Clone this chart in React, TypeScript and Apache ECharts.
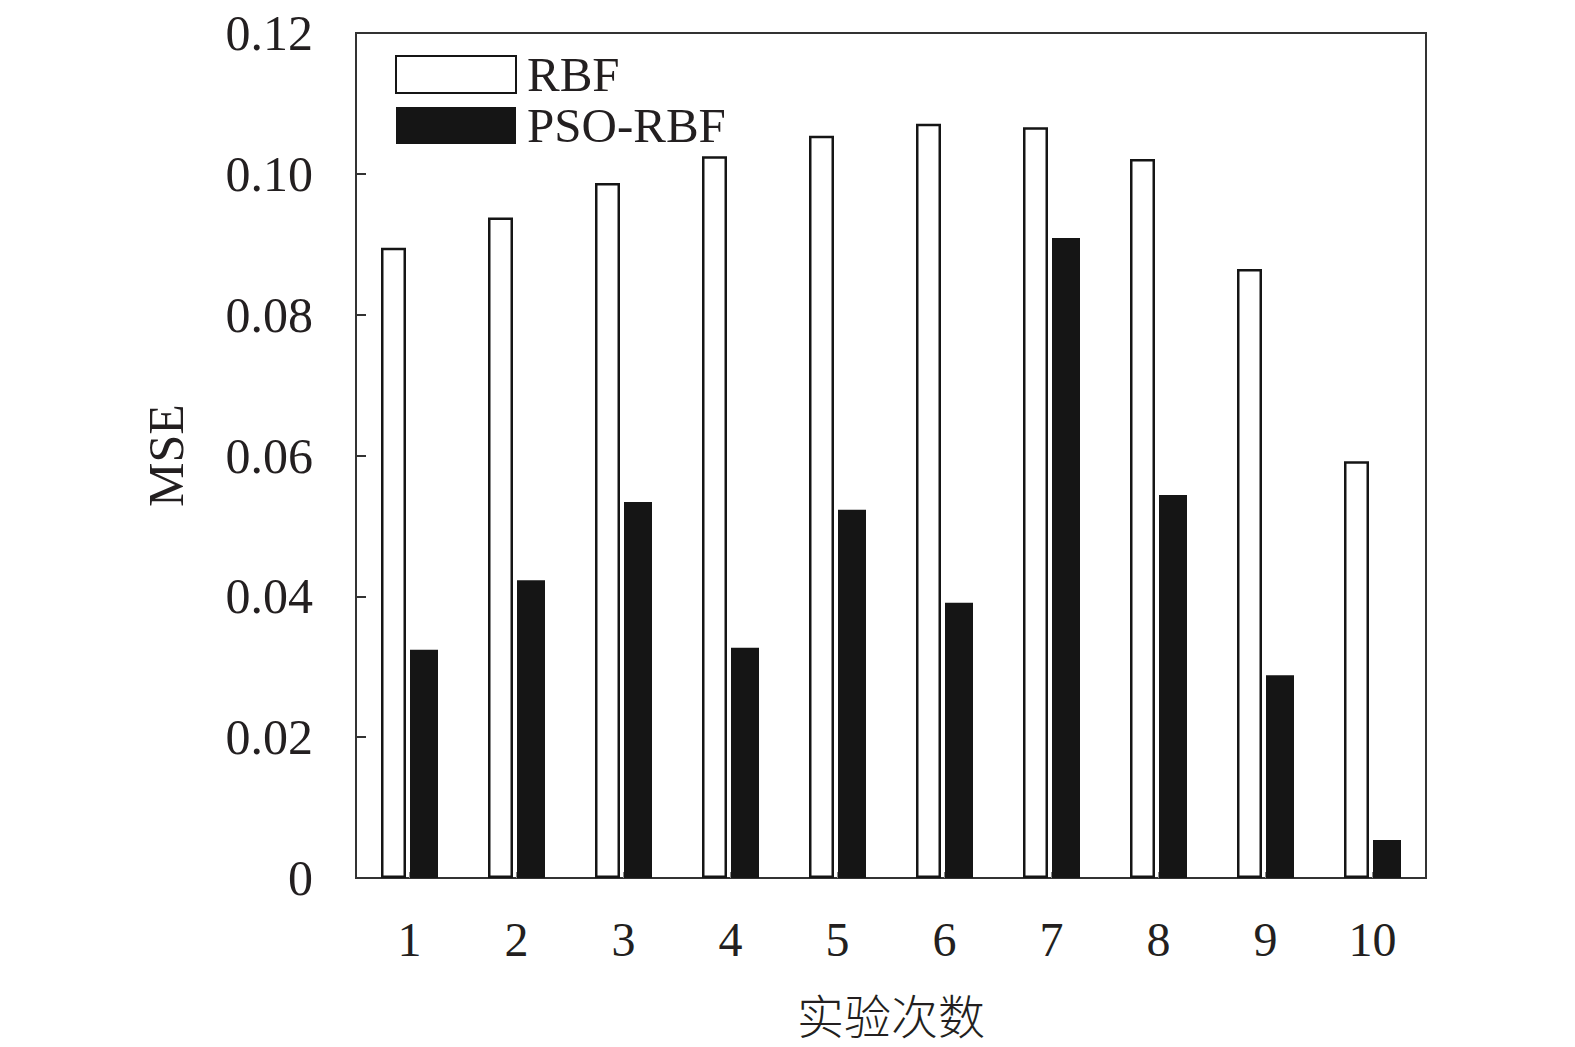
import React, { useEffect, useRef } from "react";
import * as echarts from "echarts";

const categories = ["1", "2", "3", "4", "5", "6", "7", "8", "9", "10"];
const rbfValues = [0.0895, 0.0938, 0.0987, 0.1025, 0.1054, 0.1071, 0.1066, 0.1021, 0.0865, 0.0592];
const psoRbfValues = [0.0324, 0.0423, 0.0534, 0.0327, 0.0523, 0.0391, 0.0909, 0.0544, 0.0288, 0.0054];
const seriesNames = ["RBF", "PSO-RBF"];
const yAxisTitle = "MSE";
const xAxisTitle = "实验次数";

const SERIF = "'Liberation Serif', 'Times New Roman', 'Noto Sans CJK SC', serif";
const TEXT = "#231f20";

export default function App() {
  const ref = useRef<HTMLDivElement>(null);
  useEffect(() => {
    if (!ref.current) return;
    const chart = echarts.init(ref.current, undefined, { renderer: "svg" });
    chart.setOption({
      animation: false,
      backgroundColor: "#ffffff",
      grid: {
        left: 356,
        top: 33,
        width: 1070,
        height: 845,
        show: true,
        borderColor: "#333333",
        borderWidth: 2,
        backgroundColor: "transparent",
      },
      legend: {
        orient: "vertical",
        left: 395,
        top: 50,
        padding: 0,
        itemWidth: 120,
        itemHeight: 37,
        itemGap: 2,
        icon: "rect",
        data: seriesNames,
        textStyle: {
          fontFamily: SERIF,
          fontSize: 49,
          lineHeight: 37,
          color: TEXT,
          padding: [0, 0, 8, 6],
        },
      },
      xAxis: {
        type: "category",
        data: categories,
        boundaryGap: true,
        name: xAxisTitle,
        nameLocation: "middle",
        nameGap: 111,
        nameTextStyle: {
          fontFamily: "'Noto Sans CJK SC', serif",
          fontSize: 47,
          lineHeight: 48,
          color: TEXT,
          fontWeight: 300,
        },
        axisLine: { show: true, lineStyle: { color: "#333333", width: 2 } },
        axisTick: {
          show: true,
          inside: true,
          alignWithLabel: true,
          length: 6,
          lineStyle: { color: "#888888", width: 2 },
        },
        axisLabel: {
          fontFamily: SERIF,
          fontSize: 48,
          color: TEXT,
          margin: 37,
        },
        splitLine: { show: false },
      },
      yAxis: {
        type: "value",
        min: 0,
        max: 0.12,
        interval: 0.02,
        name: yAxisTitle,
        nameLocation: "middle",
        nameGap: 165,
        nameRotate: 90,
        nameTextStyle: {
          fontFamily: SERIF,
          fontSize: 50,
          color: TEXT,
        },
        axisLine: { show: true, lineStyle: { color: "#333333", width: 2 } },
        axisTick: {
          show: true,
          inside: true,
          length: 10,
          lineStyle: { color: "#333333", width: 2 },
        },
        axisLabel: {
          fontFamily: SERIF,
          fontSize: 50,
          color: TEXT,
          margin: 43,
          padding: [0, 0, 10, 0],
          formatter: (v: number) => (v === 0 ? "0" : v.toFixed(2)),
        },
        splitLine: { show: false },
      },
      series: [
        {
          name: seriesNames[0],
          type: "bar",
          data: rbfValues,
          barWidth: 25,
          barGap: "16%",
          itemStyle: {
            color: "#ffffff",
            borderColor: "#151515",
            borderWidth: 2.5,
          },
        },
        {
          name: seriesNames[1],
          type: "bar",
          data: psoRbfValues,
          barWidth: 28,
          itemStyle: {
            color: "#151515",
            borderColor: "#151515",
            borderWidth: 0,
          },
        },
      ],
    });
    return () => chart.dispose();
  }, []);
  return (
    <div
      ref={ref}
      style={{ position: "fixed", left: 0, top: 0, width: 1575, height: 1047, background: "#fff" }}
    />
  );
}
